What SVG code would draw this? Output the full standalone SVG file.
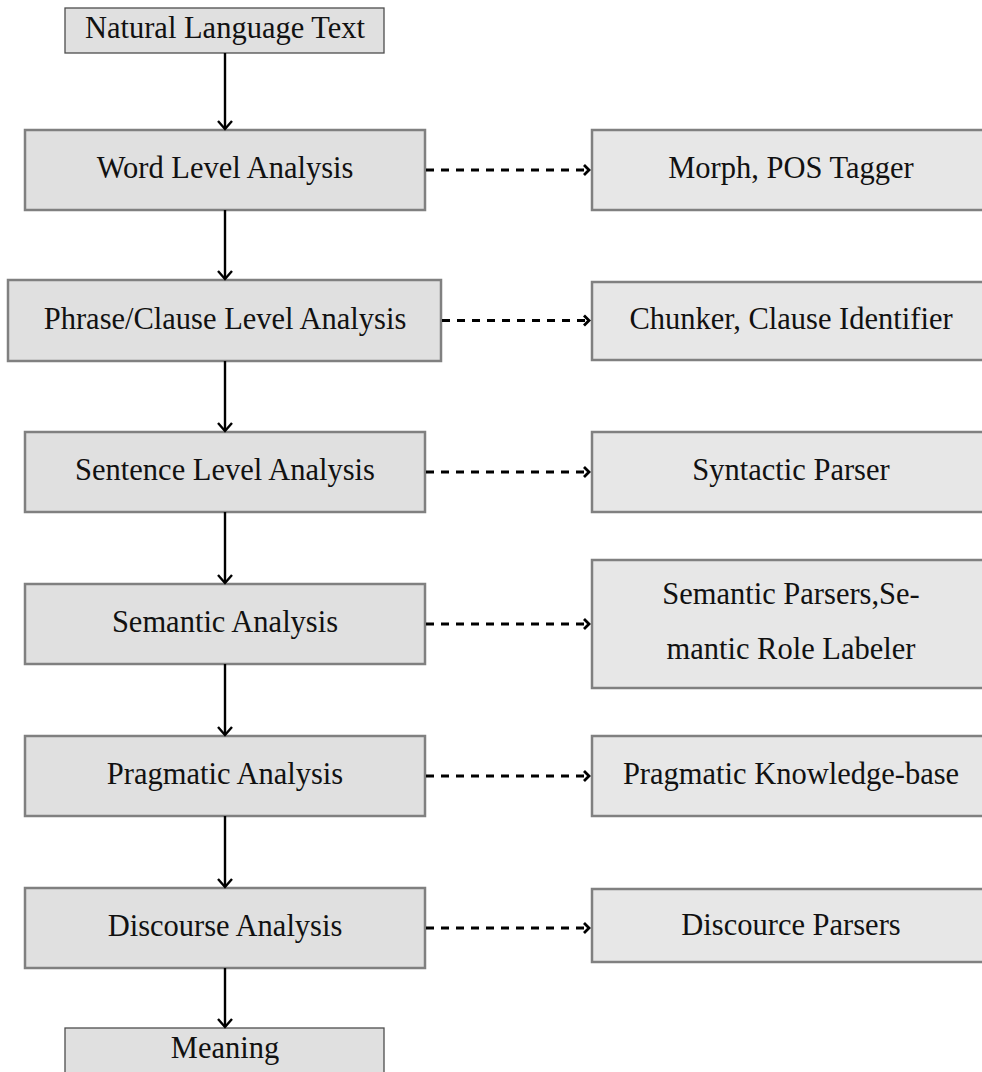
<svg xmlns="http://www.w3.org/2000/svg" width="982" height="1072" viewBox="0 0 982 1072">
  <style>
    .stage { fill: #e0e0e0; stroke: #808080; stroke-width: 2.5; }
    .tool { fill: #e7e7e7; stroke: #808080; stroke-width: 2.5; }
    .io { fill: #e0e0e0; stroke: #4d4d4d; stroke-width: 1.3; }
    text { font-family: "Liberation Serif", "Times New Roman", serif; font-size: 30.5px; fill: #111; text-anchor: middle; }
    .flow { stroke: #000; stroke-width: 2.4; fill: none; marker-end: url(#open); }
    .link { stroke: #000; stroke-width: 2.8; fill: none; stroke-dasharray: 8 7; marker-end: url(#chev); }
  </style>
  <defs>
    <marker id="open" markerUnits="userSpaceOnUse" viewBox="-10 -9 12 18" refX="0" refY="0" markerWidth="12" markerHeight="18" orient="auto">
      <path d="M -8 -7 L 0 0 L -8 7" fill="none" stroke="#000" stroke-width="2.4"/>
    </marker>
    <marker id="chev" markerUnits="userSpaceOnUse" viewBox="-8 -7 10 14" refX="0" refY="0" markerWidth="10" markerHeight="14" orient="auto">
      <path d="M -5 -5 L 0 0 L -5 5" fill="none" stroke="#000" stroke-width="2.8"/>
    </marker>
  </defs>

  <!-- pipeline input -->
  <g id="input">
    <rect class="io" x="65" y="8" width="319" height="45"/>
    <text x="225" y="38">Natural Language Text</text>
  </g>

  <!-- analysis stages -->
  <g id="word">
    <rect class="stage" x="25" y="130" width="400" height="80"/>
    <text x="225" y="178">Word Level Analysis</text>
  </g>
  <g id="phrase">
    <rect class="stage" x="8" y="280" width="433" height="81"/>
    <text x="225" y="329">Phrase/Clause Level Analysis</text>
  </g>
  <g id="sentence">
    <rect class="stage" x="25" y="432" width="400" height="80"/>
    <text x="225" y="480">Sentence Level Analysis</text>
  </g>
  <g id="semantic">
    <rect class="stage" x="25" y="584" width="400" height="80"/>
    <text x="225" y="632">Semantic Analysis</text>
  </g>
  <g id="pragmatic">
    <rect class="stage" x="25" y="736" width="400" height="80"/>
    <text x="225" y="784">Pragmatic Analysis</text>
  </g>
  <g id="discourse">
    <rect class="stage" x="25" y="888" width="400" height="80"/>
    <text x="225" y="936">Discourse Analysis</text>
  </g>

  <!-- pipeline output -->
  <g id="meaning">
    <rect class="io" x="65" y="1028" width="319" height="60"/>
    <text x="225" y="1058">Meaning</text>
  </g>

  <!-- tools used at each stage -->
  <g id="morph">
    <rect class="tool" x="592" y="130" width="398" height="80"/>
    <text x="791" y="178">Morph, POS Tagger</text>
  </g>
  <g id="chunker">
    <rect class="tool" x="592" y="282" width="398" height="78"/>
    <text x="791" y="329">Chunker, Clause Identifier</text>
  </g>
  <g id="parser">
    <rect class="tool" x="592" y="432" width="398" height="80"/>
    <text x="791" y="480">Syntactic Parser</text>
  </g>
  <g id="srl">
    <rect class="tool" x="592" y="560" width="398" height="128"/>
    <text x="791" y="604">Semantic Parsers,Se-</text>
    <text x="791" y="659">mantic Role Labeler</text>
  </g>
  <g id="kb">
    <rect class="tool" x="592" y="736" width="398" height="80"/>
    <text x="791" y="784">Pragmatic Knowledge-base</text>
  </g>
  <g id="dparser">
    <rect class="tool" x="592" y="889" width="398" height="73"/>
    <text x="791" y="935">Discource Parsers</text>
  </g>

  <!-- connectors -->
  <g id="connectors">
    <path class="flow" d="M 225 53 V 129"/>
    <path class="flow" d="M 225 210 V 279"/>
    <path class="flow" d="M 225 361 V 431"/>
    <path class="flow" d="M 225 512 V 583"/>
    <path class="flow" d="M 225 664 V 735"/>
    <path class="flow" d="M 225 816 V 887"/>
    <path class="flow" d="M 225 968 V 1027"/>

    <path class="link" d="M 426 170 H 589"/>
    <path class="link" d="M 442 320.5 H 589"/>
    <path class="link" d="M 426 472 H 589"/>
    <path class="link" d="M 426 624 H 589"/>
    <path class="link" d="M 426 776 H 589"/>
    <path class="link" d="M 426 928 H 589"/>
  </g>
</svg>
